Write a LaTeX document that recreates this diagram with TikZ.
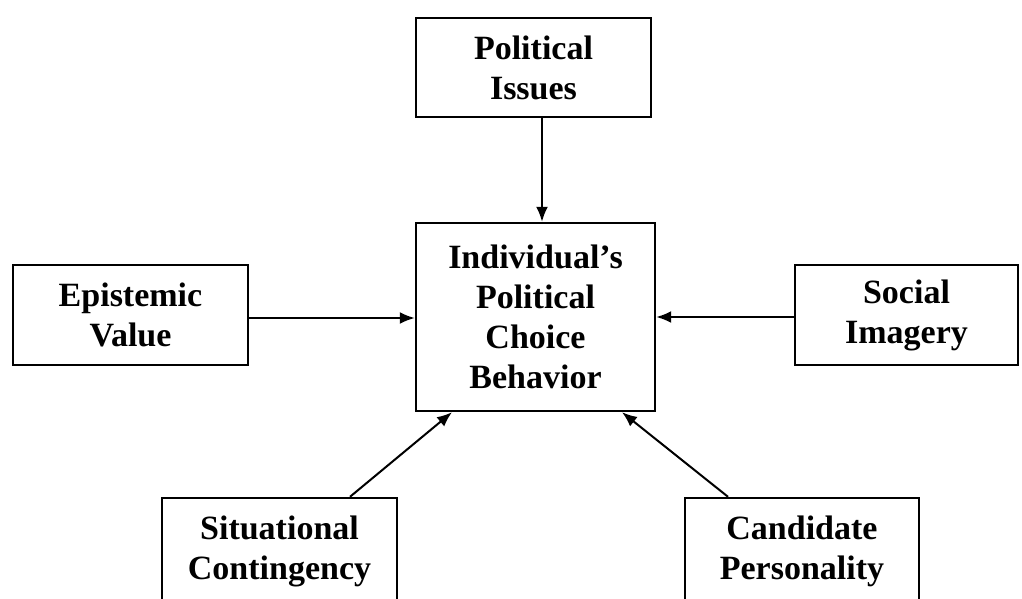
\documentclass[tikz,border=0pt]{standalone}
\usepackage{fontspec}
\setmainfont{Liberation Serif}
\usetikzlibrary{arrows.meta}
\begin{document}
\begin{tikzpicture}[x=0.5pt,y=-0.5pt,
  box/.style={draw=black,line width=1.2pt,fill=white,inner sep=0pt,align=center,
    font=\fontsize{17pt}{20pt}\selectfont\bfseries},
  arr/.style={line width=1pt,-{Latex[length=7.5pt,width=6pt]}}]
\useasboundingbox (0,0) rectangle (1022,599);
\clip (0,0) rectangle (1022,599);
\fill[white] (0,0) rectangle (1022,599);
\node[box,minimum width=117.5pt,minimum height=49.5pt] (pi) at (533.5,67.5) {Political\\Issues};
\node[box,minimum width=119.5pt,minimum height=94pt] (cb) at (535.5,317) {Individual’s\\Political\\Choice\\Behavior};
\node[box,minimum width=117.5pt,minimum height=50pt] (ev) at (130.5,315) {Epistemic\\Value};
\node[box,minimum width=111.5pt,minimum height=50pt] (si) at (906.5,315) {Social\\Imagery};
\node[box,minimum width=117.5pt,minimum height=53pt] (sc) at (279.5,551) {Situational\\Contingency};
\node[box,minimum width=117pt,minimum height=53pt] (cp) at (802,551) {Candidate\\Personality};
\draw[arr] ([xshift=4.25pt]pi.south) -- ([xshift=3.25pt]cb.north);
\draw[arr] ([yshift=-1.5pt]ev.east) -- ([yshift=-1.5pt]ev.east -| cb.west);
\draw[arr] ([yshift=-1pt]si.west) -- ([yshift=-1pt]si.west -| cb.east);
\draw[arr] ([xshift=35.25pt]sc.north) -- ([xshift=-41.75pt]cb.south);
\draw[arr] ([xshift=-37pt]cp.north) -- ([xshift=43.25pt]cb.south);
\end{tikzpicture}
\end{document}
